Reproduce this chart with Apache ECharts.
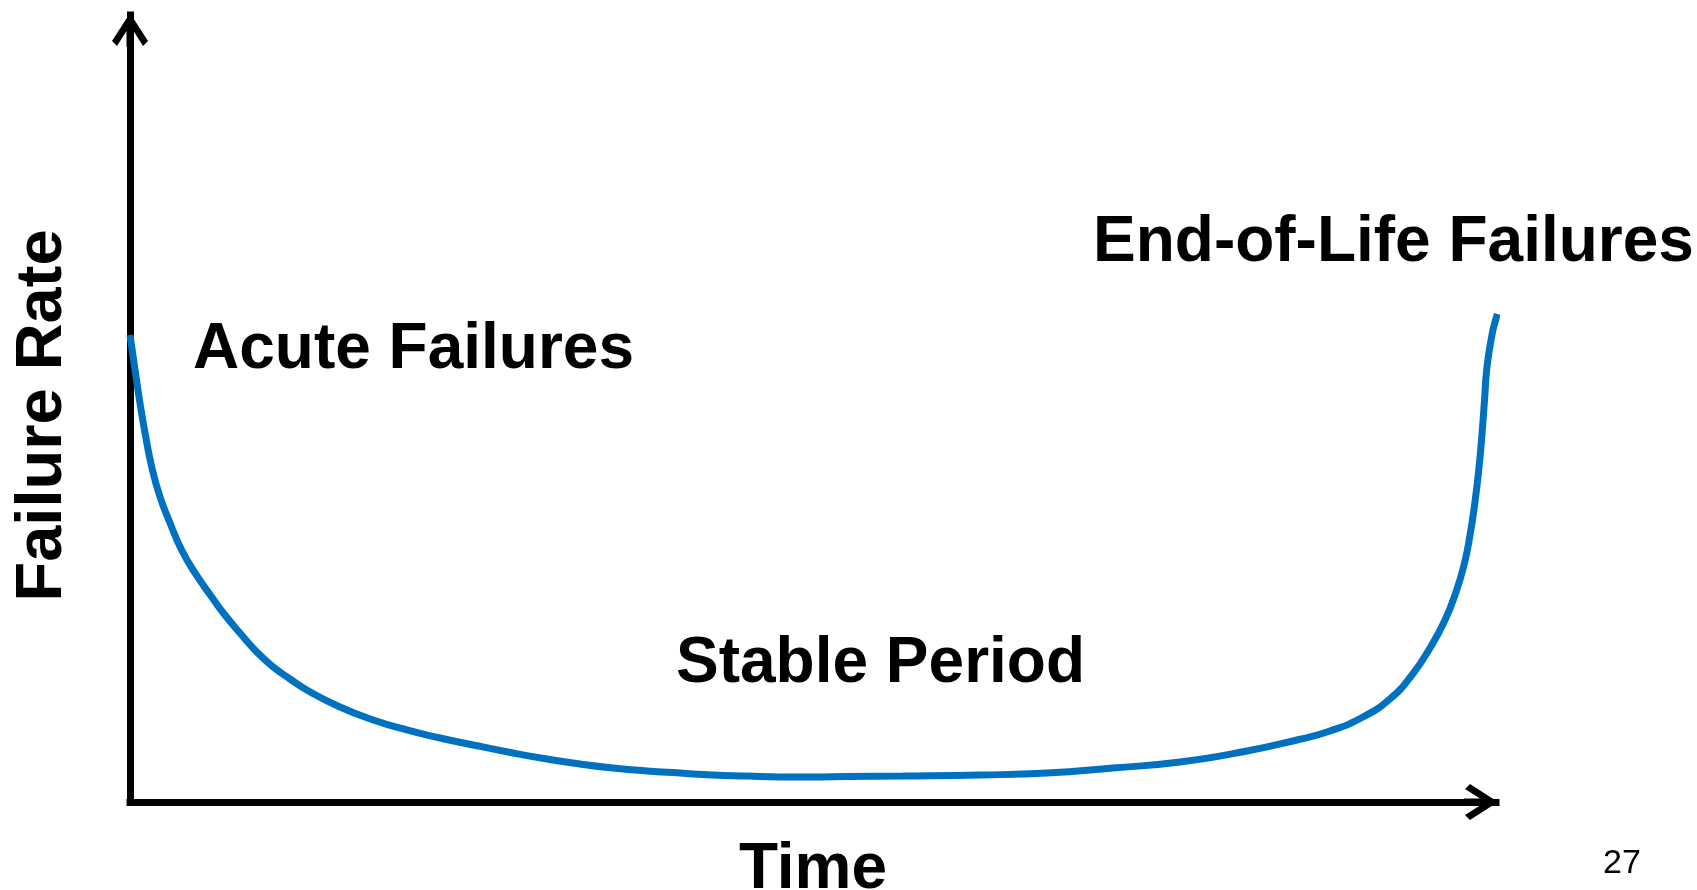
<!DOCTYPE html>
<html>
<head>
<meta charset="utf-8">
<script src="https://cdn.jsdelivr.net/npm/echarts@6/dist/echarts.min.js"></script>
<style>
  html, body { margin: 0; padding: 0; background: #fff; }
  #chart { width: 1697px; height: 890px; }
</style>
</head>
<body>
<div id="chart"></div>
<script>
// bathtub curve, time 0..100, failure rate 0..100 (arbitrary units)
var timeValues = [0, 0.37, 0.73, 1.10, 1.59, 2.20, 2.93, 3.78, 4.76, 5.98, 6.95, 8.05, 9.28, 10.49,
    11.71, 12.94, 15.37, 17.81, 20.26, 22.69, 25.13, 28.04, 30.53, 32.94, 35.36, 37.85, 40.26,
    42.68, 45.17, 47.58, 50.00, 52.49, 56.59, 62.23, 67.13, 71.96, 76.87, 81.77, 85.43, 87.85,
    90.26, 92.24, 93.85, 95.17, 96.27, 97.07, 97.66, 98.10, 98.46, 98.76, 98.98, 99.16, 99.34,
    99.73, 99.93, 100.1];
var rateValues = [59.34, 54.89, 50.70, 46.89, 42.57, 38.75, 35.45, 32.02, 29.10, 26.05, 23.76, 21.47, 19.06, 17.15,
    15.63, 14.23, 12.07, 10.42, 9.15, 8.13, 7.24, 6.23, 5.46, 4.83, 4.32, 3.94, 3.68,
    3.43, 3.30, 3.18, 3.18, 3.24, 3.30, 3.43, 3.68, 4.32, 5.08, 6.48, 7.88, 9.02,
    10.80, 13.10, 16.14, 19.57, 23.13, 26.68, 30.11, 33.93, 38.12, 42.57, 46.89, 51.08, 55.27,
    59.59, 60.99, 62.01];
var phaseLabels = ['Acute Failures', 'Stable Period', 'End-of-Life Failures'];
var xName = 'Time';
var yName = 'Failure Rate';
var pageNumber = '27';

var chart = echarts.init(document.getElementById('chart'));

var arrowPath = 'path://M18 0 L36 28 L31 33 L21.5 18 L21.5 34 L14.5 34 L14.5 18 L5 33 L0 28 Z';
var font = 'Liberation Sans, Arial, sans-serif';

var axisLine = {
    show: true,
    symbol: ['none', arrowPath],
    symbolSize: [36, 34],
    symbolOffset: [0, -15],
    lineStyle: { color: '#000', width: 7, cap: 'square' }
};

var option = {
    backgroundColor: '#fff',
    animation: false,
    grid: { left: 130, right: 201, top: 15, bottom: 88, outerBoundsMode: 'none', containLabel: false },
    xAxis: {
        type: 'value',
        min: 0,
        max: 100,
        name: xName,
        nameLocation: 'middle',
        nameGap: 36,
        nameTextStyle: { fontFamily: font, fontWeight: 'bold', fontSize: 64, color: '#000' },
        axisLine: axisLine,
        axisTick: { show: false },
        axisLabel: { show: false },
        splitLine: { show: false }
    },
    yAxis: {
        type: 'value',
        min: 0,
        max: 100,
        name: yName,
        nameLocation: 'middle',
        nameGap: 54,
        nameTextStyle: { fontFamily: font, fontWeight: 'bold', fontSize: 65, color: '#000', padding: [0, 14, 0, 0] },
        axisLine: axisLine,
        axisTick: { show: false },
        axisLabel: { show: false },
        splitLine: { show: false }
    },
    series: [{
        type: 'line',
        data: timeValues.map(function(t, i) { return [t, rateValues[i]]; }),
        smooth: 0.5,
        showSymbol: false,
        clip: false,
        lineStyle: { color: '#0070C0', width: 7 }
    }],
    graphic: [
        { type: 'text', x: 193, y: 350, style: { text: phaseLabels[0], font: 'bold 64px ' + font, fill: '#000', verticalAlign: 'middle' } },
        { type: 'text', x: 676, y: 664, style: { text: phaseLabels[1], font: 'bold 64px ' + font, fill: '#000', verticalAlign: 'middle' } },
        { type: 'text', x: 1093, y: 243, style: { text: phaseLabels[2], font: 'bold 64px ' + font, fill: '#000', verticalAlign: 'middle' } },
        { type: 'text', x: 1603, y: 864, style: { text: pageNumber, font: '34px ' + font, fill: '#000', verticalAlign: 'middle' } }
    ]
};

chart.setOption(option);
</script>
</body>
</html>
